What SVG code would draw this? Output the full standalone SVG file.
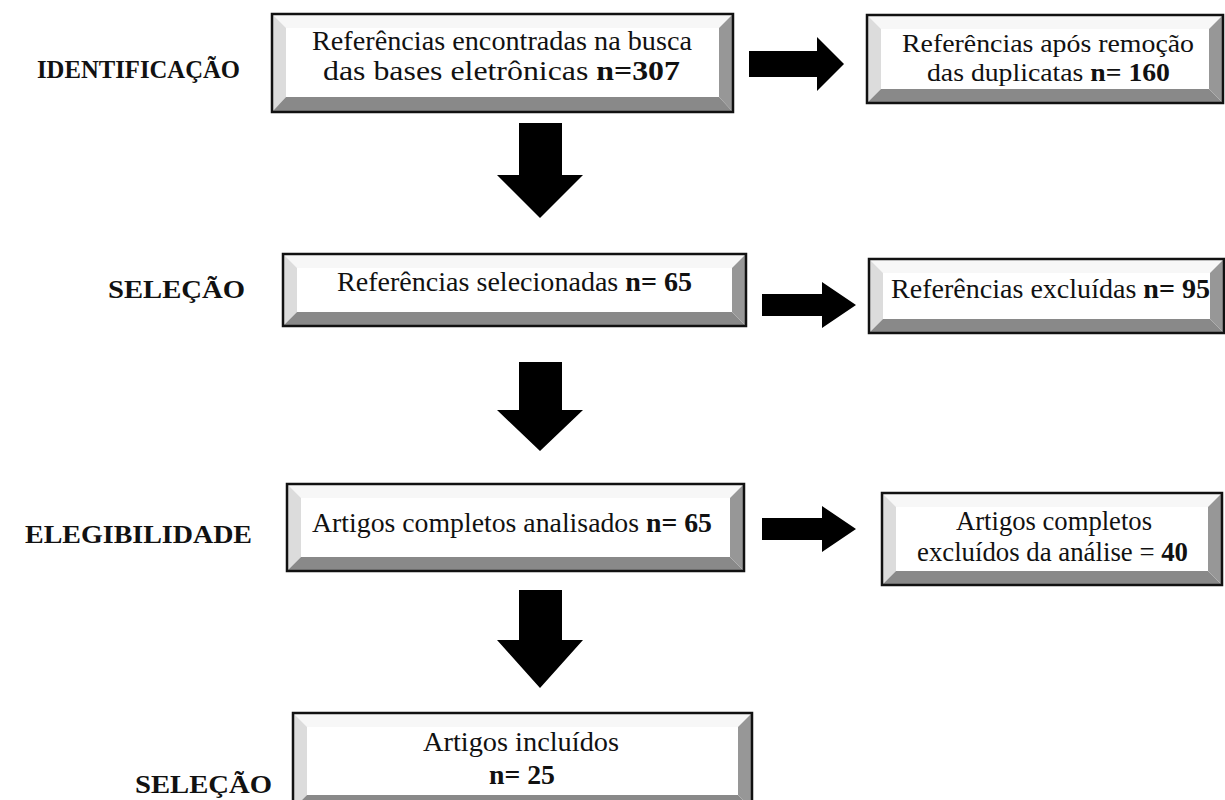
<svg xmlns="http://www.w3.org/2000/svg" width="1225" height="800" viewBox="0 0 1225 800">
<style>
.t{font-family:"Liberation Serif","Times New Roman",serif;font-size:27px;fill:#111;text-anchor:start}
.s{font-size:25px}
.lbl{font-family:"Liberation Serif","Times New Roman",serif;font-size:26px;font-weight:bold;fill:#111}
.b{font-weight:bold}
.face{fill:#fff}
.bt{fill:#f7f7f7}
.bl{fill:#dcdcdc}
.bb{fill:#898989}
.br{fill:#979797}
.frame{fill:none;stroke:#111;stroke-width:2.5}
.arr{fill:#000}
</style>
<rect width="1225" height="800" fill="#fff"/>

<g id="labels">
<text class="lbl" x="37" y="78" textLength="203" lengthAdjust="spacingAndGlyphs">IDENTIFICAÇÃO</text>
<text class="lbl" x="108" y="298" textLength="137" lengthAdjust="spacingAndGlyphs">SELEÇÃO</text>
<text class="lbl" x="25" y="543" textLength="227" lengthAdjust="spacingAndGlyphs">ELEGIBILIDADE</text>
<text class="lbl" x="135" y="793" textLength="137" lengthAdjust="spacingAndGlyphs">SELEÇÃO</text>
</g>

<g id="connectors">
<polygon class="arr" points="749,51 817,51 817,37 844,64 817,91 817,77 749,77"/>
<polygon class="arr" points="762,294 822,294 822,282 856,305 822,328 822,316 762,316"/>
<polygon class="arr" points="762,518 822,518 822,506 856,529 822,552 822,540 762,540"/>
<polygon class="arr" points="519,123 562,123 562,175 583,175 540,218 497,175 519,175"/>
<polygon class="arr" points="519,362 562,362 562,410 583,410 540,451 497,410 519,410"/>
<polygon class="arr" points="519,590 562,590 562,640 583,640 540,688 497,640 519,640"/>
</g>

<g id="n1">
<rect class="face" x="272" y="14" width="461" height="98"/>
<polygon class="bt" points="272,14 733,14 719,28 286,28"/>
<polygon class="bl" points="272,14 286,28 286,97 272,112"/>
<polygon class="bb" points="272,112 286,97 719,97 733,112"/>
<polygon class="br" points="733,14 733,112 719,97 719,28"/>
<rect class="frame" x="272" y="14" width="461" height="98"/>
<text class="t" x="312" y="50" textLength="380" lengthAdjust="spacingAndGlyphs">Referências encontradas na busca</text>
<text class="t" x="323" y="80" textLength="357" lengthAdjust="spacingAndGlyphs">das bases eletrônicas <tspan class="b">n=307</tspan></text>
</g>

<g id="n2">
<rect class="face" x="867" y="15" width="356" height="88"/>
<polygon class="bt" points="867,15 1223,15 1209,29 881,29"/>
<polygon class="bl" points="867,15 881,29 881,89 867,103"/>
<polygon class="bb" points="867,103 881,89 1209,89 1223,103"/>
<polygon class="br" points="1223,15 1223,103 1209,89 1209,29"/>
<rect class="frame" x="867" y="15" width="356" height="88"/>
<text class="t s" x="902" y="52" textLength="292" lengthAdjust="spacingAndGlyphs">Referências após remoção</text>
<text class="t s" x="927" y="81" textLength="243" lengthAdjust="spacingAndGlyphs">das duplicatas <tspan class="b">n= 160</tspan></text>
</g>

<g id="n3">
<rect class="face" x="283" y="254" width="463" height="72"/>
<polygon class="bt" points="283,254 746,254 732,268 297,268"/>
<polygon class="bl" points="283,254 297,268 297,312 283,326"/>
<polygon class="bb" points="283,326 297,312 732,312 746,326"/>
<polygon class="br" points="746,254 746,326 732,312 732,268"/>
<rect class="frame" x="283" y="254" width="463" height="72"/>
<text class="t" x="337" y="291" textLength="355" lengthAdjust="spacingAndGlyphs">Referências selecionadas <tspan class="b">n= 65</tspan></text>
</g>

<g id="n4">
<rect class="face" x="869" y="259" width="355" height="74"/>
<polygon class="bt" points="869,259 1224,259 1210,273 883,273"/>
<polygon class="bl" points="869,259 883,273 883,319 869,333"/>
<polygon class="bb" points="869,333 883,319 1210,319 1224,333"/>
<polygon class="br" points="1224,259 1224,333 1210,319 1210,273"/>
<rect class="frame" x="869" y="259" width="355" height="74"/>
<text class="t" x="891" y="298" textLength="319" lengthAdjust="spacingAndGlyphs">Referências excluídas <tspan class="b">n= 95</tspan></text>
</g>

<g id="n5">
<rect class="face" x="287" y="484" width="457" height="87"/>
<polygon class="bt" points="287,484 744,484 730,498 301,498"/>
<polygon class="bl" points="287,484 301,498 301,557 287,571"/>
<polygon class="bb" points="287,571 301,557 730,557 744,571"/>
<polygon class="br" points="744,484 744,571 730,557 730,498"/>
<rect class="frame" x="287" y="484" width="457" height="87"/>
<text class="t" x="312" y="532" textLength="400" lengthAdjust="spacingAndGlyphs">Artigos completos analisados <tspan class="b">n= 65</tspan></text>
</g>

<g id="n6">
<rect class="face" x="882" y="493" width="340" height="92"/>
<polygon class="bt" points="882,493 1222,493 1208,507 896,507"/>
<polygon class="bl" points="882,493 896,507 896,571 882,585"/>
<polygon class="bb" points="882,585 896,571 1208,571 1222,585"/>
<polygon class="br" points="1222,493 1222,585 1208,571 1208,507"/>
<rect class="frame" x="882" y="493" width="340" height="92"/>
<text class="t" x="956" y="530" textLength="196" lengthAdjust="spacingAndGlyphs">Artigos completos</text>
<text class="t" x="917" y="561" textLength="271" lengthAdjust="spacingAndGlyphs">excluídos da análise = <tspan class="b">40</tspan></text>
</g>

<g id="n7">
<rect class="face" x="293" y="713" width="459" height="96"/>
<polygon class="bt" points="293,713 752,713 738,727 307,727"/>
<polygon class="bl" points="293,713 307,727 307,795 293,809"/>
<polygon class="bb" points="293,809 307,795 738,795 752,809"/>
<polygon class="br" points="752,713 752,809 738,795 738,727"/>
<rect class="frame" x="293" y="713" width="459" height="96"/>
<text class="t" x="423" y="751" textLength="196" lengthAdjust="spacingAndGlyphs">Artigos incluídos</text>
<text class="t b" x="489" y="784" textLength="66" lengthAdjust="spacingAndGlyphs">n= 25</text>
</g>
</svg>
